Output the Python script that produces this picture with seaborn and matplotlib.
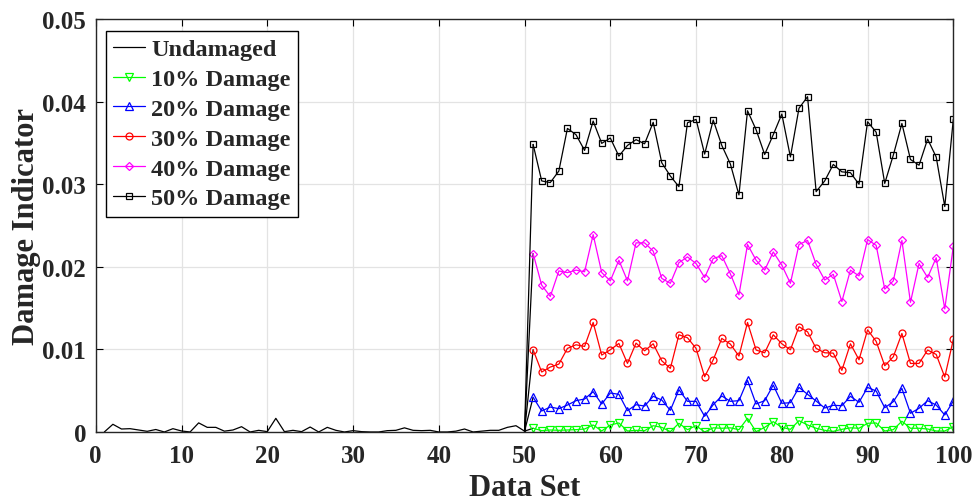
import numpy as np
import pandas as pd
import matplotlib
matplotlib.use("Agg")
import matplotlib.pyplot as plt
import seaborn as sns

# ---------------- data ----------------
x_undamaged = list(range(1, 51))
undamaged = [0.0000, 0.00093, 0.00036, 0.00040, 0.00024, 0.00008, 0.00030, 0.0000, 0.00040, 0.00012,
             0.0000, 0.00110, 0.00056, 0.00056, 0.00010, 0.00024, 0.00064, 0.0000, 0.00020, 0.00004,
             0.00165, 0.00004, 0.00020, 0.00004, 0.00060, 0.0000, 0.00056, 0.00020, 0.0000, 0.00016,
             0.00004, 0.0000, 0.0000, 0.00016, 0.00020, 0.00050, 0.00020, 0.00016, 0.00020, 0.0000,
             0.0000, 0.00010, 0.00036, 0.0000, 0.00010, 0.00020, 0.00020, 0.00056, 0.00076, 0.00010]

x_damaged = list(range(51, 101))
damage_10 = [0.00045, 0.00016, 0.00024, 0.00020, 0.00024, 0.00028, 0.00036, 0.00085, 0.00012, 0.00085,
             0.00109, 0.00012, 0.00020, 0.00016, 0.00076, 0.00056, 0.00004, 0.00105, 0.00028, 0.00076,
             0.00000, 0.00050, 0.00045, 0.00050, 0.00028, 0.00165, 0.00004, 0.00056, 0.00125, 0.00056,
             0.00032, 0.00137, 0.00085, 0.00045, 0.00020, 0.00008, 0.00032, 0.00050, 0.00045, 0.00105,
             0.00109, 0.00012, 0.00028, 0.00130, 0.00045, 0.00045, 0.00036, 0.00012, 0.00012, 0.00064]
damage_20 = [0.00420, 0.00254, 0.00302, 0.00282, 0.00326, 0.00379, 0.00399, 0.00488, 0.00339, 0.00472,
             0.00456, 0.00258, 0.00330, 0.00314, 0.00432, 0.00387, 0.00262, 0.00512, 0.00371, 0.00371,
             0.00190, 0.00330, 0.00436, 0.00371, 0.00379, 0.00625, 0.00339, 0.00379, 0.00568, 0.00347,
             0.00355, 0.00540, 0.00456, 0.00375, 0.00290, 0.00323, 0.00318, 0.00432, 0.00359, 0.00540,
             0.00496, 0.00294, 0.00367, 0.00528, 0.00226, 0.00287, 0.00379, 0.00326, 0.00206, 0.00375]
damage_30 = [0.00995, 0.00726, 0.00786, 0.00822, 0.01012, 0.01056, 0.01036, 0.01326, 0.00931, 0.00995,
             0.01072, 0.00830, 0.01076, 0.00983, 0.01068, 0.00862, 0.00770, 0.01177, 0.01141, 0.01012,
             0.00669, 0.00874, 0.01133, 0.01064, 0.00919, 0.01326, 0.00992, 0.00959, 0.01177, 0.01068,
             0.00995, 0.01274, 0.01213, 0.01012, 0.00959, 0.00955, 0.00746, 0.01068, 0.00874, 0.01237,
             0.01097, 0.00802, 0.00911, 0.01193, 0.00830, 0.00830, 0.00992, 0.00939, 0.00665, 0.01121]
damage_40 = [0.02161, 0.01778, 0.01641, 0.01950, 0.01930, 0.01960, 0.01940, 0.02390, 0.01930, 0.01830,
             0.02080, 0.01830, 0.02290, 0.02290, 0.02190, 0.01860, 0.01800, 0.02050, 0.02120, 0.02040,
             0.01870, 0.02100, 0.02135, 0.01915, 0.01660, 0.02270, 0.02080, 0.01960, 0.02180, 0.02020,
             0.01800, 0.02270, 0.02320, 0.02030, 0.01840, 0.01910, 0.01580, 0.01960, 0.01890, 0.02330,
             0.02260, 0.01730, 0.01830, 0.02320, 0.01570, 0.02040, 0.01870, 0.02110, 0.01490, 0.02250]
damage_50 = [0.03482, 0.03040, 0.03020, 0.03160, 0.03676, 0.03600, 0.03410, 0.03765, 0.03495, 0.03560,
             0.03340, 0.03470, 0.03540, 0.03490, 0.03750, 0.03260, 0.03100, 0.02970, 0.03745, 0.03785,
             0.03365, 0.03777, 0.03470, 0.03245, 0.02870, 0.03890, 0.03660, 0.03360, 0.03600, 0.03850,
             0.03330, 0.03920, 0.04060, 0.02910, 0.03040, 0.03240, 0.03150, 0.03140, 0.03000, 0.03757,
             0.03630, 0.03010, 0.03353, 0.03736, 0.03300, 0.03230, 0.03547, 0.03330, 0.02730, 0.03790]

series_labels = ["10% Damage", "20% Damage", "30% Damage", "40% Damage", "50% Damage"]
series_values = [damage_10, damage_20, damage_30, damage_40, damage_50]
series_colors = ["#00FF00", "#0000FF", "#FF0000", "#FF00FF", "#000000"]
series_markers = ["v", "^", "o", "D", "s"]
series_msize = [5.5, 5.5, 5.0, 4.5, 4.0]

x_ticks = list(range(0, 101, 10))
y_ticks = [0, 0.01, 0.02, 0.03, 0.04, 0.05]
y_tick_labels = ["0", "0.01", "0.02", "0.03", "0.04", "0.05"]

# ---------------- plot ----------------
sns.set_style("whitegrid")
plt.rcParams["font.family"] = ["Liberation Serif", "DejaVu Serif"]
plt.rcParams["font.weight"] = "bold"

fig = plt.figure(figsize=(9.73, 5.02), dpi=100)
ax = fig.add_axes([0.0984, 0.1375, 0.8814, 0.8225])

df_u = pd.DataFrame({"x": x_undamaged, "y": undamaged})
sns.lineplot(data=df_u, x="x", y="y", ax=ax, color="black", linewidth=0.9,
             label="Undamaged")

for lab, vals, col, mk, ms in zip(series_labels, series_values, series_colors,
                                  series_markers, series_msize):
    # black connector from last undamaged point to first damaged point
    dfc = pd.DataFrame({"x": [x_undamaged[-1], x_damaged[0]],
                        "y": [undamaged[-1], vals[0]]})
    sns.lineplot(data=dfc, x="x", y="y", ax=ax, color="black", linewidth=0.9,
                 label="_nolegend_")
    df = pd.DataFrame({"x": x_damaged, "y": vals})
    sns.lineplot(data=df, x="x", y="y", ax=ax, color=col, linewidth=0.9,
                 marker=mk, markersize=ms, markerfacecolor="none",
                 markeredgecolor=col, markeredgewidth=0.9, label=lab)

ax.set_xlim(0, 100)
ax.set_ylim(0, 0.05)
ax.set_xticks(x_ticks)
ax.set_yticks(y_ticks)
ax.set_yticklabels(y_tick_labels)
ax.tick_params(axis="both", which="both", direction="in", length=5, width=0.8,
               labelsize=18, top=True, right=True, bottom=True, left=True,
               colors="black")
ax.tick_params(axis="x", pad=9)
ax.tick_params(axis="y", pad=7)
for lbl in ax.get_xticklabels() + ax.get_yticklabels():
    lbl.set_fontweight("bold")
    lbl.set_color("#262626")

ax.grid(True, color="#e3e3e3", linewidth=0.9)
for sp in ax.spines.values():
    sp.set_visible(True)
    sp.set_color("#262626")
    sp.set_linewidth(1.0)

ax.set_xlabel("Data Set", fontsize=22, fontweight="bold", color="#262626", labelpad=4)
ax.set_ylabel("Damage Indicator", fontsize=22, fontweight="bold", color="#262626", labelpad=1)

leg = ax.legend(loc="upper left", bbox_to_anchor=(0.012, 0.971), borderaxespad=0,
                fontsize=17.5, frameon=True, fancybox=False, edgecolor="black",
                framealpha=1, handlelength=1.3, handletextpad=0.25,
                labelspacing=0.32, borderpad=0.3)
leg.get_frame().set_linewidth(1.0)
for t in leg.get_texts():
    t.set_fontweight("bold")

fig.savefig("out.png", dpi=100)
